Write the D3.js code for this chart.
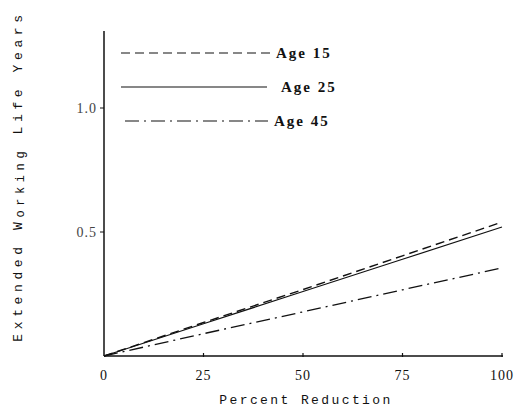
<!DOCTYPE html>
<style>
  body { margin: 0; background: #fff; }
  text { font-family: "Liberation Serif", "DejaVu Serif", serif; fill: #111; }
  .mono { font-family: "Liberation Mono", "DejaVu Sans Mono", monospace; }
</style>
<svg width="514" height="409"></svg>
<script src="https://d3js.org/d3.v7.min.js"></script>
<script>
var reduction = [0, 25, 50, 75, 100];
var age15 = [0, 0.135, 0.268, 0.404, 0.54];
var age25 = [0, 0.13, 0.26, 0.39, 0.52];
var age45 = [0, 0.09, 0.178, 0.267, 0.355];
var xTicks = [0, 25, 50, 75, 100];
var xTickLabels = ["0", "25", "50", "75", "100"];
var yTicks = [0.5, 1.0];
var seriesNames = ["Age 15", "Age 25", "Age 45"];

var svg = d3.select("svg");
var x = d3.scaleLinear().domain([0, 100]).range([104, 502]);
var y = d3.scaleLinear().domain([0, 1.0]).range([356, 108]);

var series = [
  {name: seriesNames[0], values: age15, dash: "9,5", w: 1.4},
  {name: seriesNames[1], values: age25, dash: null, w: 1.2},
  {name: seriesNames[2], values: age45, dash: "14,5,2,5", w: 1.3}
];

// axes
svg.append("line").attr("x1", x(0)).attr("x2", x(0)).attr("y1", y(0)).attr("y2", y(1.31))
  .attr("stroke", "#111").attr("stroke-width", 1.5);
svg.append("line").attr("x1", x(0)).attr("x2", x(100) + 1).attr("y1", y(0)).attr("y2", y(0))
  .attr("stroke", "#111").attr("stroke-width", 1.5);

svg.selectAll(".xt").data(xTicks.slice(1)).enter().append("line")
  .attr("x1", d => x(d)).attr("x2", d => x(d)).attr("y1", y(0) - 3).attr("y2", y(0) + 1)
  .attr("stroke", "#111").attr("stroke-width", 1.2);
svg.selectAll(".yt").data(yTicks).enter().append("line")
  .attr("x1", x(0) - 4).attr("x2", x(0)).attr("y1", d => y(d)).attr("y2", d => y(d))
  .attr("stroke", "#111").attr("stroke-width", 1);

svg.selectAll(".xl").data(xTicks).enter().append("text")
  .attr("x", d => x(d)).attr("y", 380).attr("text-anchor", "middle")
  .style("font-size", "14px").style("letter-spacing", "1px")
  .text((d, i) => xTickLabels[i]);
svg.selectAll(".yl").data(yTicks).enter().append("text")
  .attr("x", 97).attr("y", d => y(d) + 5).attr("text-anchor", "end")
  .style("font-size", "14px").style("letter-spacing", "1px").style("fill", "#444")
  .text(d => d.toFixed(1));

svg.append("text").attr("class", "mono").attr("x", 306).attr("y", 404).attr("text-anchor", "middle")
  .style("font-size", "13px").style("letter-spacing", "2.4px")
  .text("Percent  Reduction");

var yl = svg.append("text").attr("class", "mono").attr("transform", "translate(22,176) rotate(-90)")
  .attr("text-anchor", "middle").style("font-size", "13px").style("letter-spacing", "4.6px");
yl.append("tspan").text("Extended W");
yl.append("tspan").attr("dy", 2).style("font-size", "12px").text("orking");
yl.append("tspan").attr("dy", -2).text(" Life Years");

// lines
var line = d3.line().x((d, i) => x(reduction[i])).y(d => y(d));
svg.selectAll(".series").data(series).enter().append("path")
  .attr("d", d => line(d.values))
  .attr("fill", "none").attr("stroke", "#111")
  .attr("stroke-width", d => d.w)
  .attr("stroke-dasharray", d => d.dash);

// legend
var leg = [
  {x1: 121, x2: 272, y: 53, tx: 276},
  {x1: 121, x2: 267, y: 87, tx: 281},
  {x1: 125, x2: 268, y: 121, tx: 274}
];
series.forEach(function (s, i) {
  svg.append("line").attr("x1", leg[i].x1).attr("x2", leg[i].x2)
    .attr("y1", leg[i].y).attr("y2", leg[i].y)
    .attr("stroke", "#111").attr("stroke-width", 1.1)
    .attr("stroke-dasharray", s.dash);
  svg.append("text").attr("x", leg[i].tx).attr("y", leg[i].y + 5)
    .style("font-size", "15px").style("font-weight", "bold").style("letter-spacing", "2px")
    .text(s.name.replace(" ", "  "));
});
</script>
